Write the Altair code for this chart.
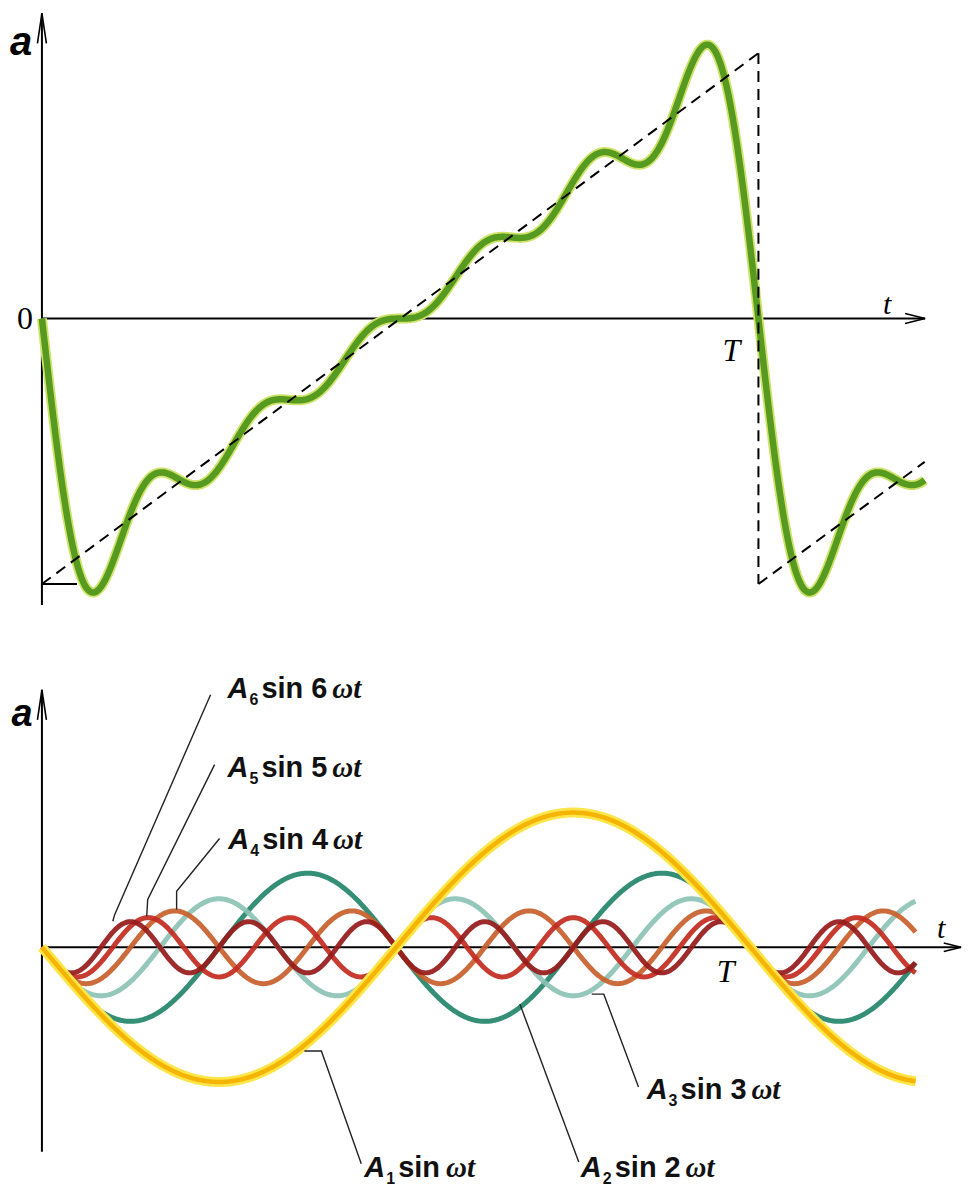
import numpy as np
import pandas as pd
import altair as alt

# ---------------- data ----------------
# harmonic orders k of the components A_k sin(k*omega*t)
harmonics = [1, 2, 3, 4, 5, 6]
# amplitudes of the components in the lower panel (relative to A1)
component_amp = [1.00, 0.55, 0.36, 0.27, 0.22, 0.19]
# coefficients of the summed curve in the upper panel (units: half-height of the dashed sawtooth)
sum_coef = [0.637, 0.318, 0.212, 0.159, 0.127, 0.106]
# colours of the components A1..A6
component_colors = ["#f4b400", "#23866a", "#8cc2b4", "#c8602c", "#c22a20", "#961a1a"]

# dashed sawtooth segments of the upper panel (t in periods, a in sawtooth half-heights)
saw_seg = [0, 0, 1, 1, 2, 2]
saw_t = [0.0, 1.0, 1.0, 1.0, 1.0, 1.232]
saw_a = [-1.0, 1.0, 1.0, -1.0, -1.0, -0.54]

# label positions in the lower panel (order k = 6,5,4,3,2,1)
label_k = [6, 5, 4, 3, 2, 1]
label_t = [0.262, 0.262, 0.263, 0.8535, 0.7606, 0.4549]
label_a = [1.852, 1.267, 0.726, -1.126, -1.704, -1.704]

# leader lines (label k, point order, t, a)
lead_k = [6, 6, 6, 5, 5, 5, 4, 4, 4, 3, 3, 3, 2, 2, 1, 1, 1]
lead_i = [0, 1, 2, 0, 1, 2, 0, 1, 2, 0, 1, 2, 0, 1, 0, 1, 2]
lead_t = [0.238, 0.1028, 0.1000, 0.2437, 0.1493, 0.1479, 0.2507, 0.1901, 0.1901,
          0.776, 0.793, 0.842, 0.6746, 0.7577, 0.3704, 0.3944, 0.4507]
lead_a = [1.874, 0.244, 0.193, 1.356, 0.356, 0.230, 0.807, 0.415, 0.281,
          -0.348, -0.348, -1.037, -0.422, -1.593, -0.77, -0.77, -1.607]

# ---------------- scales ----------------
W = 957
H_TOP, H_BOT = 620, 553
top_x = [-0.04735, 1.28552]
top_y = [-1.16541, 1.16541]
bot_x = [-0.04789, 1.29999]
bot_y = [-1.7259, 2.3704]


def X(dom, field="t"):
    return alt.X(f"{field}:Q", scale=alt.Scale(domain=dom, nice=False, zero=False), axis=None)


def Y(dom, field="a"):
    return alt.Y(f"{field}:Q", scale=alt.Scale(domain=dom, nice=False, zero=False), axis=None)


UP = "M-0.3,2L0,0L0.3,2"
RIGHT = "M-2,-0.5L0,0L-2,0.5"

# ---------------- upper panel ----------------
t_top = np.linspace(0, 1.232, 900)
f_top = np.zeros_like(t_top)
for k, c in zip(harmonics, sum_coef):
    f_top -= c * np.sin(2 * np.pi * k * t_top)
green = pd.DataFrame({"t": t_top, "a": f_top})

top_axes = pd.DataFrame({
    "t": [0.0, 0.0, 0.0], "a": [-1.079, 0.0, -1.0],
    "t2": [0.0, 1.2326, 0.049], "a2": [1.150, 0.0, -1.0],
})
saw = pd.DataFrame({"seg": saw_seg, "t": saw_t, "a": saw_a})

layers_top = [
    alt.Chart(top_axes).mark_rule(color="black", strokeWidth=2).encode(
        x=X(top_x), y=Y(top_y), x2="t2:Q", y2="a2:Q"),
    alt.Chart(pd.DataFrame({"t": [0.0], "a": [1.150]})).mark_point(
        shape=UP, size=900, filled=False, color="black", strokeWidth=1.6, opacity=1
    ).encode(x=X(top_x), y=Y(top_y)),
    alt.Chart(pd.DataFrame({"t": [1.2326], "a": [0.0]})).mark_point(
        shape=RIGHT, size=400, filled=False, color="black", strokeWidth=1.6, opacity=1
    ).encode(x=X(top_x), y=Y(top_y)),
    alt.Chart(green).mark_line(color="#cfe36a", strokeWidth=10).encode(x=X(top_x), y=Y(top_y)),
    alt.Chart(green).mark_line(color="#569a20", strokeWidth=6.5).encode(x=X(top_x), y=Y(top_y)),
    alt.Chart(saw).mark_line(color="black", strokeWidth=2, strokeDash=[11, 7]).encode(
        x=X(top_x), y=Y(top_y), detail="seg:N"),
    alt.Chart(pd.DataFrame({"t": [-0.0292], "a": [1.0376], "s": ["a"]})).mark_text(
        font="Liberation Sans", fontSize=40, fontWeight="bold", fontStyle="italic",
        align="center", baseline="middle", color="black"
    ).encode(x=X(top_x), y=Y(top_y), text="s:N"),
    alt.Chart(pd.DataFrame({"t": [-0.0237], "a": [0.0], "s": ["0"]})).mark_text(
        font="Liberation Serif", fontSize=32, align="center", baseline="middle", color="black"
    ).encode(x=X(top_x), y=Y(top_y), text="s:N"),
    alt.Chart(pd.DataFrame({"t": [1.1797, 0.9624], "a": [0.0526, -0.124], "s": ["t", "T"],
                            "fs": [30, 32]})).mark_text(
        font="Liberation Serif", fontStyle="italic", align="center", baseline="middle",
        color="black"
    ).encode(x=X(top_x), y=Y(top_y), text="s:N",
             size=alt.Size("fs:Q", scale=None, legend=None)),
]
top = alt.layer(*layers_top).properties(width=W, height=H_TOP)

# ---------------- lower panel ----------------
t_bot = np.linspace(0, 1.233, 900)
bot_axes = pd.DataFrame({
    "t": [0.0, 0.0], "a": [-1.5185, 0.0], "t2": [0.0, 1.2972], "a2": [1.911, 0.0],
})

comp_layers = []
draw_order = [1, 2, 3, 4, 5, 0]  # teal first, reds, yellow on top
for idx in draw_order:
    k = harmonics[idx]
    df = pd.DataFrame({"t": t_bot,
                       "a": -component_amp[idx] * np.sin(2 * np.pi * k * t_bot)})
    if k == 1:
        comp_layers.append(alt.Chart(df).mark_line(color="#fde54a", strokeWidth=10).encode(
            x=X(bot_x), y=Y(bot_y)))
        comp_layers.append(alt.Chart(df).mark_line(color=component_colors[idx], strokeWidth=4.5).encode(
            x=X(bot_x), y=Y(bot_y)))
    else:
        comp_layers.append(alt.Chart(df).mark_line(color=component_colors[idx], strokeWidth=5,
                                                   opacity=0.92).encode(
            x=X(bot_x), y=Y(bot_y)))

labels = pd.DataFrame({
    "k": label_k, "t": label_t, "a": label_a,
    "A": ["A"] * 6,
    "sub": [str(k) for k in label_k],
    "sin": [("sin " + str(k)) if k > 1 else "sin" for k in label_k],
    "w": ["\u03c9t"] * 6,
})
lead = pd.DataFrame({"k": lead_k, "i": lead_i, "t": lead_t, "a": lead_a})

LBL_FS = 29


def lbl_text(field, dx, dy=0, fs=LBL_FS, style="normal", font="Liberation Sans", data=labels):
    return alt.Chart(data).mark_text(
        font=font, fontSize=fs, fontWeight="bold", fontStyle=style,
        align="left", baseline="alphabetic", dx=dx, dy=dy, color="#111111"
    ).encode(x=X(bot_x), y=Y(bot_y), text=f"{field}:N")


layers_bot = [
    alt.Chart(bot_axes).mark_rule(color="black", strokeWidth=2).encode(
        x=X(bot_x), y=Y(bot_y), x2="t2:Q", y2="a2:Q"),
    alt.Chart(pd.DataFrame({"t": [0.0], "a": [1.911]})).mark_point(
        shape=UP, size=900, filled=False, color="black", strokeWidth=1.6, opacity=1
    ).encode(x=X(bot_x), y=Y(bot_y)),
    alt.Chart(pd.DataFrame({"t": [1.2972], "a": [0.0]})).mark_point(
        shape=RIGHT, size=300, filled=False, color="black", strokeWidth=1.6, opacity=1
    ).encode(x=X(bot_x), y=Y(bot_y)),
    *comp_layers,
    alt.Chart(lead).mark_line(color="#222222", strokeWidth=1.4).encode(
        x=X(bot_x), y=Y(bot_y), detail="k:N", order="i:Q"),
    lbl_text("A", 0, style="italic"),
    lbl_text("sub", 22, dy=7, fs=16),
    lbl_text("sin", 34),
    lbl_text("w", 105, style="italic", font="Liberation Serif", data=labels[labels.k > 1]),
    lbl_text("w", 82, style="italic", font="Liberation Serif", data=labels[labels.k == 1]),
    alt.Chart(pd.DataFrame({"t": [-0.0282], "a": [1.726], "s": ["a"]})).mark_text(
        font="Liberation Sans", fontSize=38, fontWeight="bold", fontStyle="italic",
        align="center", baseline="middle", color="black"
    ).encode(x=X(bot_x), y=Y(bot_y), text="s:N"),
    alt.Chart(pd.DataFrame({"t": [1.269, 0.9648], "a": [0.133, -0.185], "s": ["t", "T"],
                            "fs": [30, 32]})).mark_text(
        font="Liberation Serif", fontStyle="italic", align="center", baseline="middle",
        color="black"
    ).encode(x=X(bot_x), y=Y(bot_y), text="s:N",
             size=alt.Size("fs:Q", scale=None, legend=None)),
]
bottom = alt.layer(*layers_bot).properties(width=W, height=H_BOT)

chart = alt.vconcat(top, bottom, spacing=0, bounds="flush").properties(
    padding=0
).configure(background="white").configure_view(stroke=None, strokeWidth=0)

chart.save("out.html", embed_options={"renderer": "svg", "actions": False})
